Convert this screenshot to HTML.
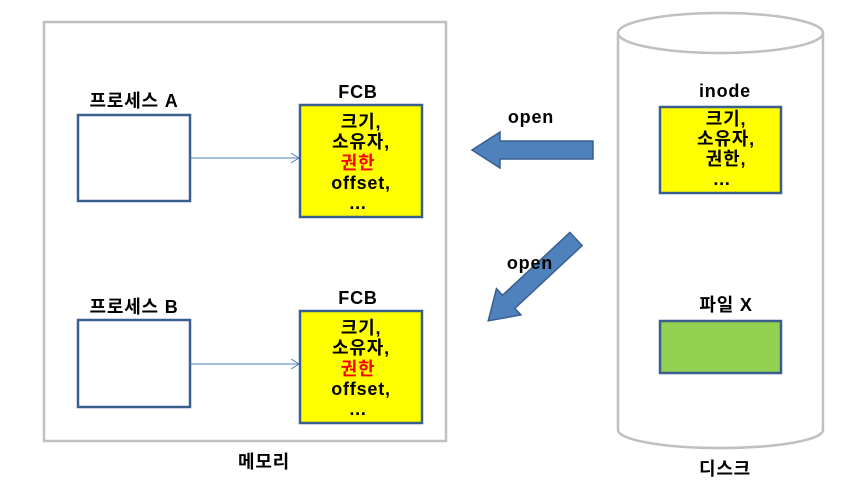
<!DOCTYPE html>
<html><head><meta charset="utf-8"><style>
body{margin:0;background:#fff;}
svg text{font-family:"Liberation Sans","Noto Sans CJK KR",sans-serif;font-weight:bold;font-size:18px;letter-spacing:0.8px;fill:#000;text-anchor:middle;}
</style></head><body>
<svg width="842" height="480" viewBox="0 0 842 480" xmlns="http://www.w3.org/2000/svg">
<rect x="44" y="22" width="402" height="419" fill="none" stroke="#c0c0c0" stroke-width="2.5"/>
<text x="264" y="468">메모리</text>
<path d="M618,33 L618,430 A102.5,18 0 0 0 823,430 L823,33" fill="#fff" stroke="#c0c0c0" stroke-width="2.5"/>
<ellipse cx="720.5" cy="33" rx="102.5" ry="20" fill="#fff" stroke="#c0c0c0" stroke-width="2.5"/>
<text x="725" y="475">디스크</text>
<text x="134" y="107">프로세스 A</text>
<rect x="78" y="115" width="112" height="86" fill="#fff" stroke="#3a5f8f" stroke-width="2.5"/>
<line x1="190" y1="158" x2="299" y2="158" stroke="#4f7fbf" stroke-width="1"/>
<polyline points="291,153 299,158 291,163" fill="none" stroke="#4f7fbf" stroke-width="1"/>
<text x="358" y="98">FCB</text>
<rect x="300" y="105" width="122" height="112" fill="#ffff00" stroke="#3a5f8f" stroke-width="2.5"/>
<text x="361" y="128">크기,</text>
<text x="361" y="148">소유자,</text>
<text x="358" y="169" style="fill:#ff0000">권한</text>
<text x="361" y="189">offset,</text>
<text x="358" y="209">…</text>
<text x="134" y="313">프로세스 B</text>
<rect x="78" y="320" width="112" height="87" fill="#fff" stroke="#3a5f8f" stroke-width="2.5"/>
<line x1="190" y1="364" x2="299" y2="364" stroke="#4f7fbf" stroke-width="1"/>
<polyline points="291,359 299,364 291,369" fill="none" stroke="#4f7fbf" stroke-width="1"/>
<text x="358" y="304">FCB</text>
<rect x="300" y="311" width="122" height="112" fill="#ffff00" stroke="#3a5f8f" stroke-width="2.5"/>
<text x="361" y="334">크기,</text>
<text x="361" y="354">소유자,</text>
<text x="358" y="375" style="fill:#ff0000">권한</text>
<text x="361" y="395">offset,</text>
<text x="358" y="415">…</text>
<text x="725" y="97">inode</text>
<rect x="660" y="107" width="121" height="86" fill="#ffff00" stroke="#3a5f8f" stroke-width="2.5"/>
<text x="726" y="125">크기,</text>
<text x="726" y="145">소유자,</text>
<text x="726" y="165">권한,</text>
<text x="722" y="185">…</text>
<text x="726" y="311">파일 X</text>
<rect x="660" y="321" width="121" height="52" fill="#92d050" stroke="#3a5f8f" stroke-width="2.5"/>
<text x="531" y="123">open</text>
<polygon points="593,141 500,141 500,132 472,150 500,168 500,159 593,159" fill="#4f81bd" stroke="#3a5f8f" stroke-width="1.5"/>
<g transform="translate(576,239) rotate(-43)">
<polygon points="0,-9 -92,-9 -92,-18 -120,0 -92,18 -92,9 0,9" fill="#4f81bd" stroke="#3a5f8f" stroke-width="1.5"/>
</g>
<text x="530" y="269">open</text>
</svg>
</body></html>
